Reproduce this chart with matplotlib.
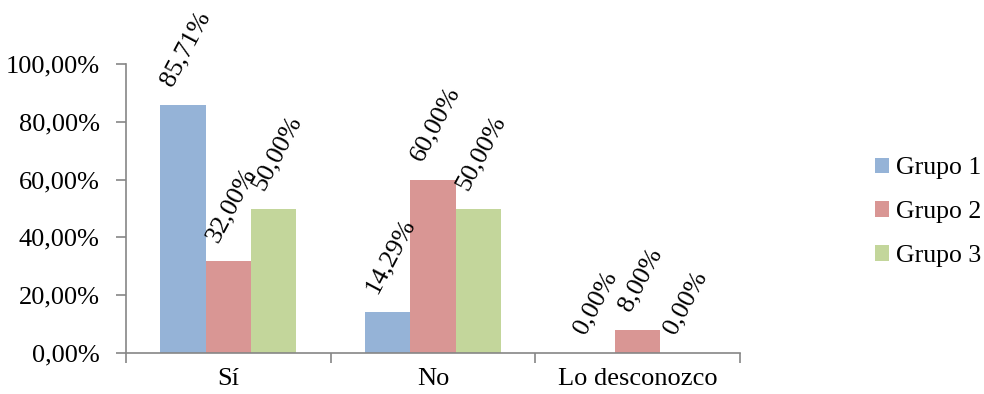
import matplotlib
matplotlib.use("Agg")
import matplotlib.pyplot as plt
import numpy as np

categories = ["Sí", "No", "Lo desconozco"]
series_names = ["Grupo 1", "Grupo 2", "Grupo 3"]
grupo1 = [85.71, 14.29, 0.00]
grupo2 = [32.00, 60.00, 8.00]
grupo3 = [50.00, 50.00, 0.00]
y_ticks = [0, 20, 40, 60, 80, 100]

colors = ["#95B3D7", "#D99694", "#C3D69B"]
axis_color = "#868686"

plt.rcParams["font.family"] = ["Liberation Serif", "DejaVu Serif"]
FS = 19

fig = plt.figure(figsize=(9.84, 3.94), dpi=100)
ax = fig.add_axes([126 / 984, 41 / 394, 614 / 984, 289 / 394])

def fmt_pct(v):
    return f"{v:.2f}".replace(".", ",") + "%"

centers = np.arange(len(categories)) + 0.5
width = 0.222
offsets = [-width, 0, width]

for vals, name, col, off in zip([grupo1, grupo2, grupo3], series_names, colors, offsets):
    bars = ax.bar(centers + off, vals, width, color=col, label=name, linewidth=0)
    for b, v in zip(bars, vals):
        ax.annotate(fmt_pct(v), (b.get_x() + b.get_width() / 2, v),
                    xytext=(2, 11), textcoords="offset points",
                    rotation=62, ha="center", va="bottom", fontsize=FS)

ax.set_xlim(0, len(categories))
ax.set_ylim(0, 100)
ax.set_yticks(y_ticks)
ax.set_yticklabels([fmt_pct(v) for v in y_ticks])

ax.set_xticks(np.arange(len(categories) + 1))
ax.set_xticklabels([])
ax.set_xticks(centers, minor=True)
ax.set_xticklabels(categories, minor=True)

ax.tick_params(axis="y", which="major", direction="out", length=7, width=1.2,
               color=axis_color, labelsize=FS, pad=12)
ax.tick_params(axis="x", which="major", direction="out", length=7, width=1.2,
               color=axis_color)
ax.tick_params(axis="x", which="minor", length=0, labelsize=FS, pad=11)

for side in ["top", "right"]:
    ax.spines[side].set_visible(False)
for side in ["left", "bottom"]:
    ax.spines[side].set_color(axis_color)
    ax.spines[side].set_linewidth(1.2)

leg = ax.legend(loc="center left", bbox_to_anchor=(1.191, 0.487), frameon=False,
                fontsize=18.5, handlelength=0.55, handleheight=0.55,
                handletextpad=0.25, labelspacing=0.85, borderpad=0.2)

fig.savefig("out.png", dpi=100)
